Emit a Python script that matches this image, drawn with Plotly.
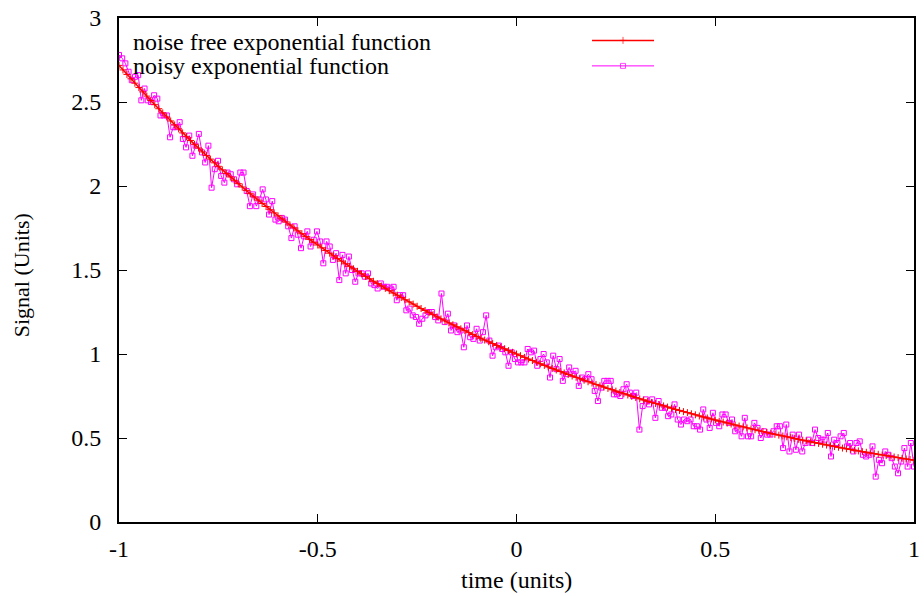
import numpy as np
import plotly.graph_objects as go

# ---- data -------------------------------------------------------------
x_ticks = [-1, -0.5, 0, 0.5, 1]
x_tick_text = ["-1", "-0.5", "0", "0.5", "1"]
y_ticks = [0, 0.5, 1, 1.5, 2, 2.5, 3]
y_tick_text = ["0", "0.5", "1", "1.5", "2", "2.5", "3"]

series_names = ["noise free exponential function", "noisy exponential function"]

# noise free signal, sampled every 0.01 time units from -1 to 1
signal_free = [
    2.718, 2.691, 2.664, 2.638, 2.612, 2.586, 2.560, 2.535, 2.509, 2.484,
    2.460, 2.435, 2.411, 2.387, 2.363, 2.340, 2.316, 2.293, 2.271, 2.248,
    2.226, 2.203, 2.181, 2.160, 2.138, 2.117, 2.096, 2.075, 2.054, 2.034,
    2.014, 1.994, 1.974, 1.954, 1.935, 1.916, 1.896, 1.878, 1.859, 1.840,
    1.822, 1.804, 1.786, 1.768, 1.751, 1.733, 1.716, 1.699, 1.682, 1.665,
    1.649, 1.632, 1.616, 1.600, 1.584, 1.568, 1.553, 1.537, 1.522, 1.507,
    1.492, 1.477, 1.462, 1.448, 1.433, 1.419, 1.405, 1.391, 1.377, 1.363,
    1.350, 1.336, 1.323, 1.310, 1.297, 1.284, 1.271, 1.259, 1.246, 1.234,
    1.221, 1.209, 1.197, 1.185, 1.174, 1.162, 1.150, 1.139, 1.127, 1.116,
    1.105, 1.094, 1.083, 1.073, 1.062, 1.051, 1.041, 1.031, 1.020, 1.010,
    1.000,
    0.990, 0.980, 0.970, 0.961, 0.951, 0.942, 0.932, 0.923, 0.914, 0.905,
    0.896, 0.887, 0.878, 0.869, 0.861, 0.852, 0.844, 0.835, 0.827, 0.819,
    0.811, 0.803, 0.795, 0.787, 0.779, 0.771, 0.763, 0.756, 0.748, 0.741,
    0.733, 0.726, 0.719, 0.712, 0.705, 0.698, 0.691, 0.684, 0.677, 0.670,
    0.664, 0.657, 0.651, 0.644, 0.638, 0.631, 0.625, 0.619, 0.613, 0.607,
    0.600, 0.595, 0.589, 0.583, 0.577, 0.571, 0.566, 0.560, 0.554, 0.549,
    0.543, 0.538, 0.533, 0.527, 0.522, 0.517, 0.512, 0.507, 0.502, 0.497,
    0.492, 0.487, 0.482, 0.477, 0.472, 0.468, 0.463, 0.458, 0.454, 0.449,
    0.445, 0.440, 0.436, 0.432, 0.427, 0.423, 0.419, 0.415, 0.411, 0.407,
    0.403, 0.399, 0.395, 0.391, 0.387, 0.383, 0.379, 0.375, 0.372, 0.368,
]

signal_noisy = [
    2.78, 2.76, 2.73, 2.68, 2.63, 2.65, 2.66, 2.51, 2.58, 2.51,
    2.50, 2.54, 2.52, 2.42, 2.42, 2.42, 2.29, 2.35, 2.35, 2.38,
    2.28, 2.23, 2.30, 2.18, 2.24, 2.31, 2.20, 2.14, 2.24, 1.99,
    2.10, 2.15,
    2.06, 2.02, 2.08, 2.07, 2.04, 2.01, 2.08, 2.08, 1.97, 1.88,
    1.95, 1.88, 1.92, 1.98, 1.92, 1.83, 1.91, 1.80, 1.79, 1.81,
    1.80, 1.76, 1.69, 1.76, 1.71, 1.63, 1.70, 1.73, 1.64, 1.68,
    1.73, 1.67,
    1.54, 1.67, 1.64, 1.56, 1.60, 1.44, 1.59, 1.48, 1.58, 1.50,
    1.43, 1.48, 1.48, 1.46, 1.48, 1.42, 1.41, 1.39, 1.42, 1.40,
    1.40, 1.39, 1.40, 1.32, 1.35, 1.35, 1.26, 1.27, 1.23, 1.22,
    1.18,
    1.21, 1.23, 1.25, 1.25, 1.22, 1.20, 1.36, 1.19, 1.24, 1.14,
    1.17, 1.13, 1.14, 1.04, 1.17, 1.10, 1.09, 1.15, 1.08, 1.13,
    1.23, 1.08, 0.99, 1.04, 1.05, 1.03, 1.01, 0.93, 1.01, 0.97,
    0.95,
    0.95, 0.95, 1.03, 1.01, 1.02, 0.93, 0.97, 1.00, 0.95, 0.86,
    0.99, 0.91, 0.97, 0.84, 0.88, 0.92, 0.88, 0.90, 0.81, 0.86,
    0.85, 0.88, 0.85, 0.78, 0.72, 0.80, 0.84, 0.84, 0.84, 0.76,
    0.76,
    0.75, 0.79, 0.82, 0.77, 0.75, 0.77, 0.55, 0.69, 0.73, 0.70,
    0.73, 0.62, 0.72, 0.68, 0.68, 0.63, 0.64, 0.70, 0.61, 0.58,
    0.61, 0.60, 0.61, 0.57, 0.57, 0.55, 0.67, 0.61, 0.56, 0.65,
    0.59, 0.57,
    0.64, 0.64, 0.59, 0.61, 0.54, 0.55, 0.51, 0.62, 0.51, 0.51,
    0.59, 0.56, 0.50, 0.54, 0.52, 0.52, 0.54, 0.57, 0.57, 0.44,
    0.58, 0.42, 0.52, 0.43, 0.52, 0.42, 0.47, 0.49, 0.47, 0.55,
    0.50,
    0.49, 0.49, 0.53, 0.39, 0.49, 0.47, 0.51, 0.53, 0.45, 0.47,
    0.42, 0.47, 0.48, 0.40, 0.39, 0.40, 0.45, 0.27, 0.37, 0.35,
    0.42, 0.40, 0.38, 0.33, 0.29, 0.36, 0.44, 0.33, 0.47, 0.33,
]

time_free = np.round(np.linspace(-1, 1, len(signal_free)), 4)
time_noisy = np.linspace(-1, 1, len(signal_noisy))

# ---- styling ----------------------------------------------------------
FONT = "Liberation Serif, Times New Roman, serif"
FS = 24
RED = "#ff0000"
MAG = "#ff00ff"

fig = go.Figure()

fig.add_trace(go.Scatter(
    x=time_noisy, y=signal_noisy, mode="lines+markers",
    line=dict(color=MAG, width=1),
    marker=dict(symbol="square-open", size=5, color=MAG, line=dict(width=1, color=MAG)),
    name=series_names[1], showlegend=False,
))
fig.add_trace(go.Scatter(
    x=time_free, y=signal_free, mode="lines+markers",
    line=dict(color=RED, width=1.5),
    marker=dict(symbol="cross-thin-open", size=5, color=RED, line=dict(width=1, color=RED)),
    name=series_names[0], showlegend=False,
))

# key samples drawn on an overlay axis spanning the plot area as 0..1
key_x = [0.595, 0.634, 0.673]
key_rows = [0.9556, 0.905]
key_styles = [
    dict(color=RED, symbol="cross-thin-open", width=1.5),
    dict(color=MAG, symbol="square-open", width=1),
]
for yk, st in zip(key_rows, key_styles):
    fig.add_trace(go.Scatter(
        x=key_x, y=[yk] * 3, mode="lines+markers", xaxis="x2", yaxis="y2",
        line=dict(color=st["color"], width=st["width"]),
        marker=dict(symbol=st["symbol"], size=[0, 5, 0], color=st["color"],
                    line=dict(width=1, color=st["color"])),
        showlegend=False, hoverinfo="skip",
    ))

annotations = []
for yk, name in zip([0.953, 0.905], series_names):
    annotations.append(dict(
        x=0.015, y=yk, xref="paper", yref="paper", xanchor="left", yanchor="middle",
        text=name, showarrow=False, font=dict(family=FONT, size=FS, color="black"),
    ))
annotations.append(dict(
    x=0.5, y=-0.115, xref="paper", yref="paper", xanchor="center", yanchor="middle",
    text="time (units)", showarrow=False, font=dict(family=FONT, size=FS, color="black"),
))
annotations.append(dict(
    x=-0.123, y=0.49, xref="paper", yref="paper", xanchor="center", yanchor="middle",
    text="Signal (Units)", textangle=-90, showarrow=False,
    font=dict(family=FONT, size=22, color="black"),
))

axis_common = dict(
    showline=True, linecolor="black", linewidth=2, mirror="allticks",
    ticks="inside", ticklen=8, tickwidth=1, tickcolor="black",
    showgrid=False, zeroline=False, ticklabeloverflow="allow", automargin=False,
    tickfont=dict(family=FONT, size=FS, color="black"),
)

fig.update_layout(
    width=924, height=596,
    margin=dict(l=119, r=10, t=18, b=74),
    paper_bgcolor="white", plot_bgcolor="white",
    showlegend=False, hovermode=False,
    xaxis=dict(range=[-1, 1], tickvals=x_ticks, ticktext=x_tick_text,
               ticklabelstandoff=4, **axis_common),
    yaxis=dict(range=[0, 3], tickvals=y_ticks, ticktext=y_tick_text,
               ticklabelstandoff=11, **axis_common),
    xaxis2=dict(overlaying="x", range=[0, 1], visible=False, fixedrange=True),
    yaxis2=dict(overlaying="y", range=[0, 1], visible=False, fixedrange=True),
    annotations=annotations,
)

# remove the page's default body margin so the figure fills the window exactly
fig.write_html("out.html", config={"displayModeBar": False},
               post_script="document.body.style.margin='0';")
